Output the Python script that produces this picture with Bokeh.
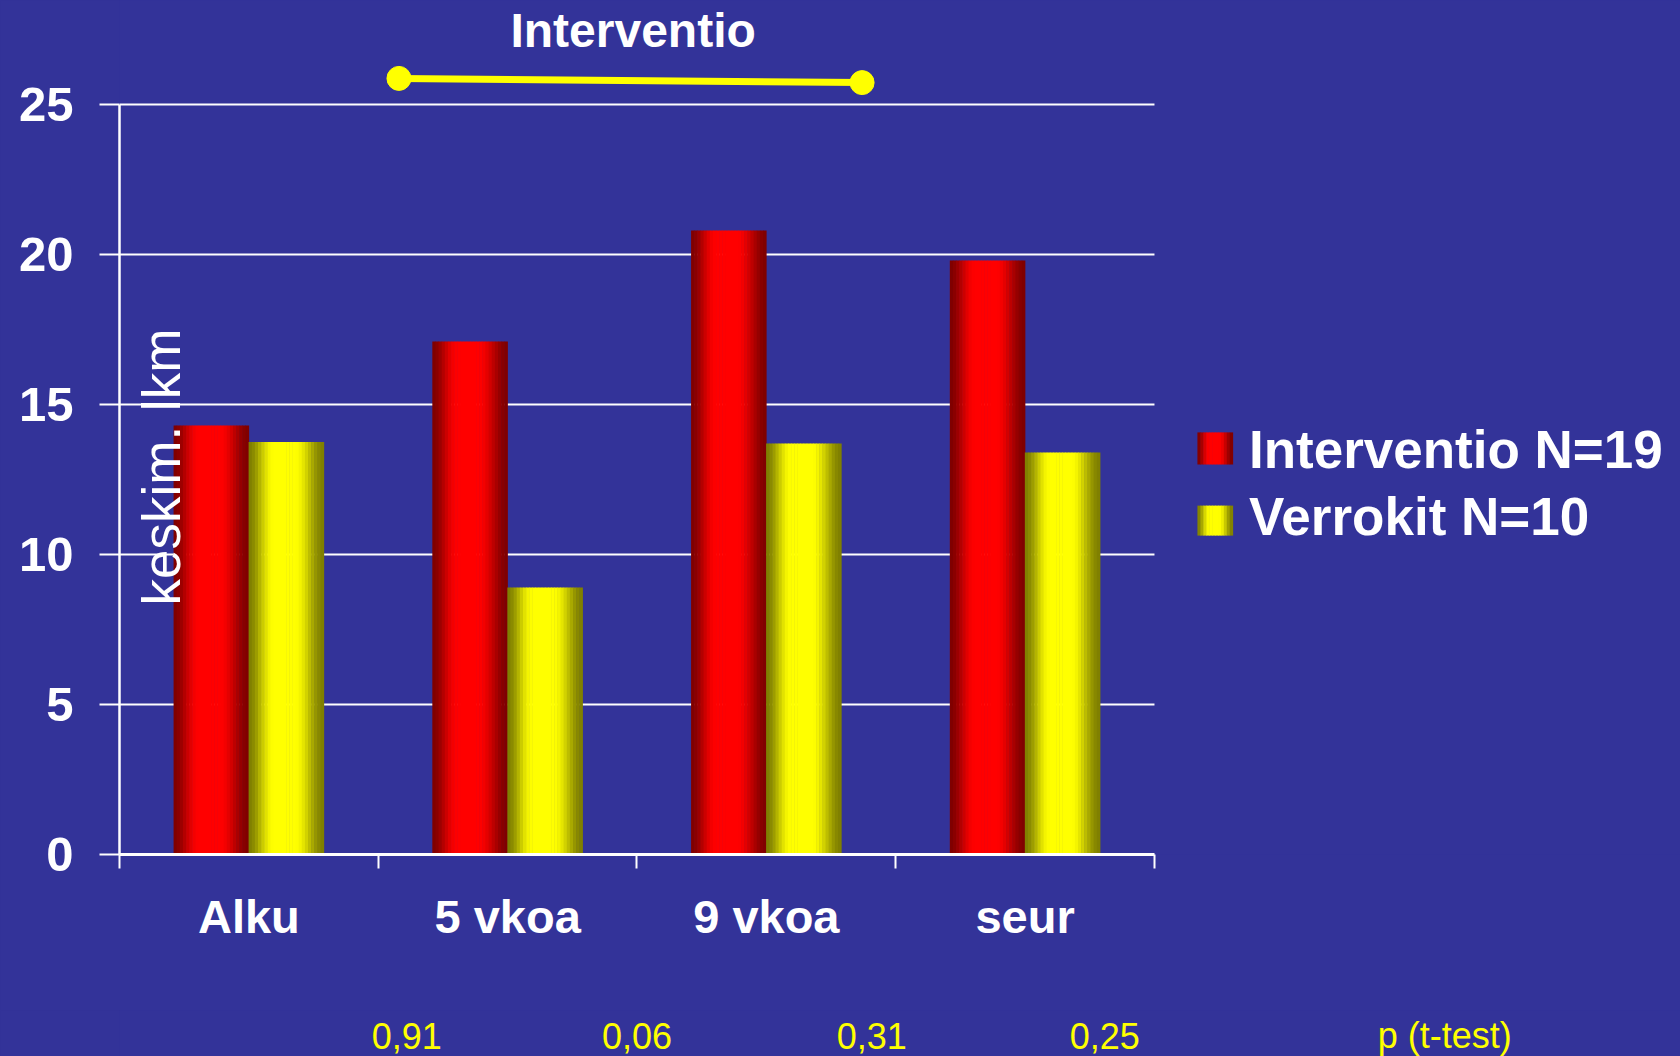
import numpy as np
from bokeh.plotting import figure
from bokeh.layouts import column
from bokeh.models import ColumnDataSource, FixedTicker, Range1d, Label
from bokeh.core.properties import value
from bokeh.embed import file_html
from bokeh.resources import INLINE

# ---------------- data ----------------
categories = ["Alku", "5 vkoa", "9 vkoa", "seur"]
intervention = [14.3, 17.1, 20.8, 19.8]
controls = [13.75, 8.9, 13.7, 13.4]
series_names = ["Interventio N=19", "Verrokit N=10"]
y_ticks = [0, 5, 10, 15, 20, 25]
y_label = "keskim. lkm"
period_label = "Interventio"
period_x = [1.08, 2.87]          # intervention period marker (category units)
period_y = [25.87, 25.73]
p_values = ["0,91", "0,06", "0,31", "0,25"]
p_value_x = [1.11, 2.0, 2.907, 3.808]
p_caption = "p (t-test)"
p_caption_x = 5.122

# ---------------- style ----------------
BG = "#333399"
FONT = "Liberation Sans"
W = 1680
H_MAIN, H_P = 1010, 46
BAR_W = 0.29
NSTRIP = 24


def shade(t):
    rise = np.clip(t / 0.33, 0, 1)
    fall = np.clip((1 - t) / 0.38, 0, 1)
    s = np.minimum(rise, fall)
    s = s * s * (3 - 2 * s)
    return 0.5 + 0.5 * s


def rgb_red(b):
    return "#%02x%02x%02x" % (int(255 * b), 0, 0)


def rgb_yellow(b):
    return "#%02x%02x%02x" % (int(255 * b), int(255 * b), 0)


def strips(centers, tops, width, colorfn, n=NSTRIP, bottoms=None):
    xs, ts, bs, cs = [], [], [], []
    t = (np.arange(n) + 0.5) / n
    cols = [colorfn(b) for b in shade(t)]
    for k, (c, top) in enumerate(zip(centers, tops)):
        left = c - width / 2
        for i in range(n):
            xs.append(left + (i + 0.5) * width / n)
            ts.append(top)
            bs.append(0 if bottoms is None else bottoms[k])
            cs.append(cols[i])
    return ColumnDataSource(dict(x=xs, top=ts, bottom=bs, color=cs)), width / n + 0.002


x_range = Range1d(0, 6.033)
p = figure(width=W, height=H_MAIN, output_backend="svg", toolbar_location=None,
           x_range=x_range, y_range=Range1d(0, 28.4667),
           min_border_left=119, min_border_right=0, min_border_top=0,
           min_border_bottom=H_MAIN - 854,
           background_fill_color=BG, border_fill_color=BG, outline_line_color=None,
           styles={"background-color": BG})
p.xgrid.visible = False
p.ygrid.visible = False

# gridlines (stop at the end of the category axis)
n_cat = len(categories)
p.segment(x0=[0] * (len(y_ticks) - 1), x1=[n_cat] * (len(y_ticks) - 1),
          y0=y_ticks[1:], y1=y_ticks[1:], line_color="white", line_width=2)

# bars
centers = np.arange(n_cat) + 0.5
src_r, sw = strips(centers - BAR_W / 2, intervention, BAR_W, rgb_red)
src_y, _ = strips(centers + BAR_W / 2, controls, BAR_W, rgb_yellow)
p.vbar(x="x", top="top", bottom="bottom", width=sw, source=src_r,
       fill_color="color", line_color=None)
p.vbar(x="x", top="top", bottom="bottom", width=sw, source=src_y,
       fill_color="color", line_color=None)

# axes
yax = p.yaxis[0]
yax.ticker = FixedTicker(ticks=y_ticks)
yax.bounds = (0, 25)
yax.axis_line_color = "white"
yax.axis_line_width = 2.5
yax.major_tick_line_color = "white"
yax.major_tick_line_width = 2
yax.major_tick_out = 20
yax.major_tick_in = 0
yax.minor_tick_line_color = None
yax.major_label_text_color = "white"
yax.major_label_text_font = FONT
yax.major_label_text_font_style = "bold"
yax.major_label_text_font_size = "49px"
yax.major_label_standoff = 26

xax = p.xaxis[0]
xax.ticker = FixedTicker(ticks=list(centers), minor_ticks=list(range(n_cat + 1)))
xax.major_label_overrides = {float(c): lab for c, lab in zip(centers, categories)}
xax.bounds = (0, n_cat)
xax.axis_line_color = "white"
xax.axis_line_width = 3
xax.major_tick_line_color = None
xax.major_tick_out = 14
xax.major_tick_in = 0
xax.minor_tick_line_color = "white"
xax.minor_tick_line_width = 2
xax.minor_tick_out = 14
xax.minor_tick_in = 0
xax.major_label_text_color = "white"
xax.major_label_text_font = FONT
xax.major_label_text_font_style = "bold"
xax.major_label_text_font_size = "47px"
xax.major_label_standoff = 21

# y label inside the plot
p.add_layout(Label(x=0.164, y=8.3, text=y_label, angle=np.pi / 2,
                   text_color="white", text_font=FONT, text_font_size="53px",
                   text_align="left", text_baseline="alphabetic"))

# intervention period marker
p.line(x=period_x, y=period_y, line_color="yellow", line_width=7)
p.scatter(x=period_x, y=period_y, size=24, fill_color="yellow", line_color="yellow")
p.add_layout(Label(x=float(np.mean(period_x)) + 0.01, y=27.47, text=period_label,
                   text_color="white", text_font=FONT, text_font_style="bold",
                   text_font_size="48px", text_align="center",
                   text_baseline="alphabetic"))

# legend
leg_x = 4.235
leg_w = 0.136
leg_rows = [(13.0, 14.07, rgb_red), (10.63, 11.63, rgb_yellow)]
leg_text_y = [13.5, 11.27]
for (b0, b1, fn), name, ty in zip(leg_rows, series_names, leg_text_y):
    s, w = strips([leg_x], [b1], leg_w, fn, n=12, bottoms=[b0])
    p.vbar(x="x", top="top", bottom="bottom", width=w, source=s,
           fill_color="color", line_color=None)
    p.add_layout(Label(x=4.365, y=ty, text=name, text_color="white",
                       text_font=FONT, text_font_style="bold",
                       text_font_size="53px", text_align="left",
                       text_baseline="alphabetic"))

# p-values row (separate strip below the chart, sharing the x scale)
p2 = figure(width=W, height=H_P, output_backend="svg", toolbar_location=None,
            x_range=x_range, y_range=Range1d(0, 1),
            x_axis_type=None, y_axis_type=None,
            min_border_left=119, min_border_right=0, min_border_top=0,
            min_border_bottom=0,
            background_fill_color=BG, border_fill_color=BG, outline_line_color=None,
            styles={"background-color": BG})
p2.xgrid.visible = False
p2.ygrid.visible = False
p2.text(x=p_value_x + [p_caption_x], y=[0.446] * (len(p_values) + 1),
        text=p_values + [p_caption], text_color="yellow",
        text_font=value(FONT), text_font_size="36px",
        text_align="center", text_baseline="alphabetic")

layout = column(p, p2, spacing=0, styles={"background-color": BG})
open("out.html", "w").write(file_html(layout, INLINE))
